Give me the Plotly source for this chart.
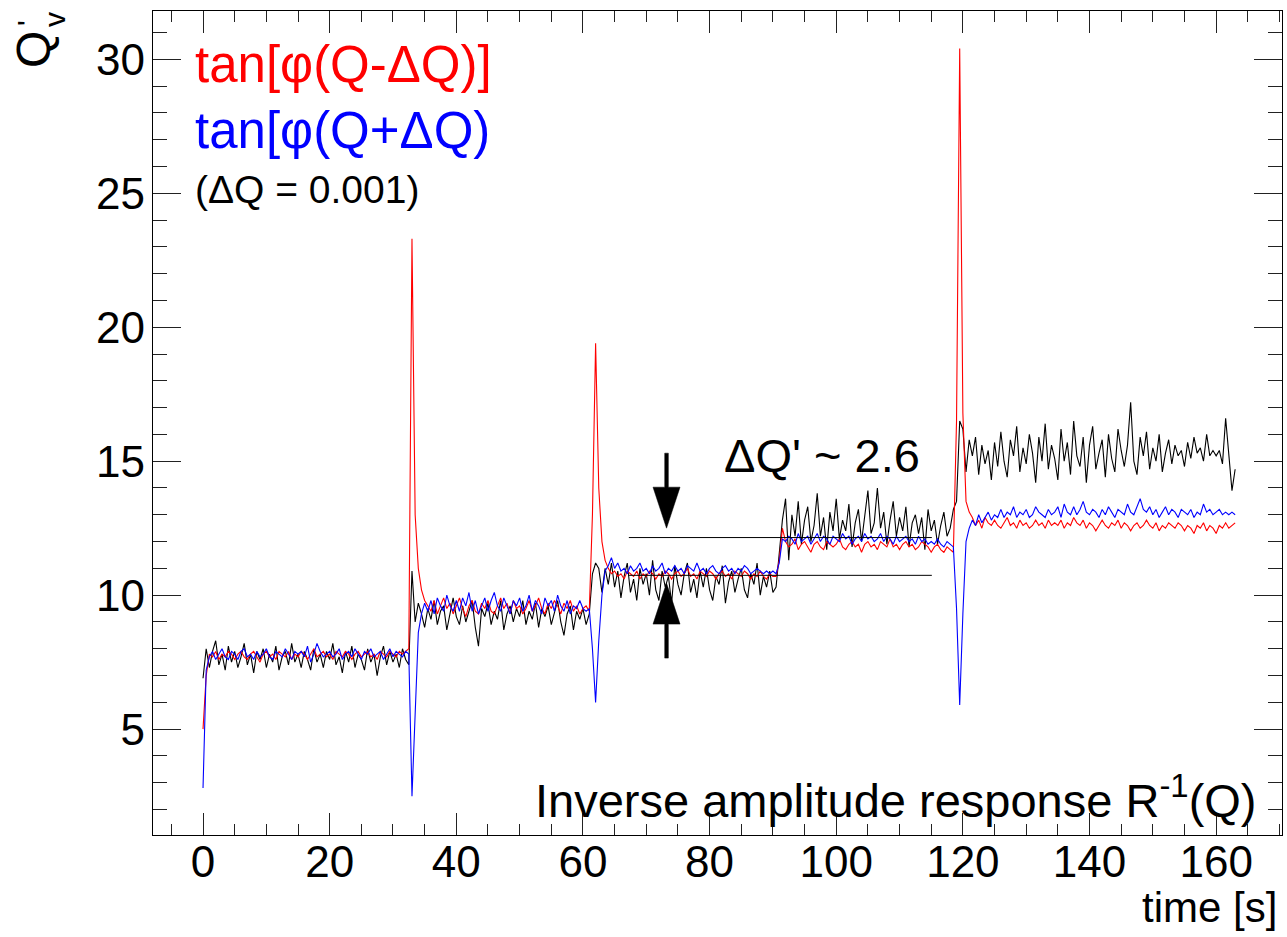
import plotly.graph_objects as go

# ---------------- data ----------------
t_start = 0.0
t_step = 0.5

red = [
    5.0, 7.0, 7.8, 7.7, 7.9, 7.6, 7.8, 7.7, 7.9, 7.8,
    7.6, 7.8, 7.9, 7.7, 7.6, 7.8, 7.9, 7.7, 7.5, 7.8,
    7.9, 7.7, 7.8, 7.6, 7.9, 7.8, 7.7, 7.9, 7.6, 7.8,
    7.7, 7.9, 7.8, 7.6, 7.8, 8.0, 7.7, 7.8, 7.9, 7.7,
    7.8, 7.6, 7.9, 7.8, 7.7, 7.9, 7.8, 7.6, 7.8, 7.9,
    7.7, 7.8, 7.9, 7.7, 7.8, 7.6, 7.9, 7.8, 7.7, 7.9,
    7.8, 7.7, 7.9, 7.8, 7.9, 8.0,
    23.3,
    13.0, 11.0, 10.2,
    9.8, 9.6, 9.4, 9.8, 9.3, 9.6, 9.9, 9.5, 9.7, 9.3,
    9.6, 9.9, 9.5, 9.2, 9.6, 9.8, 9.4, 9.3, 9.7, 9.5,
    9.8, 9.4, 9.3, 9.6, 9.9, 9.5, 9.7, 9.3, 9.8, 9.5,
    9.6, 9.3, 9.5, 9.8, 9.4, 9.6, 9.9, 9.5, 9.3, 9.7,
    9.5, 9.8, 9.6, 9.3, 9.7, 9.5, 9.8, 9.4, 9.6, 9.3,
    9.5, 9.6, 9.4,
    13.0, 19.4, 14.0, 12.0, 11.3,
    11.0, 10.8,
    10.9, 10.7, 10.8, 10.6, 10.9, 10.8, 10.7, 10.9, 10.6, 10.8,
    10.7, 10.9, 10.8, 10.6, 10.8, 10.7, 10.9, 10.8, 10.6, 10.8,
    10.9, 10.7, 10.8, 11.0, 10.7, 10.8, 10.6, 10.9, 10.8, 10.7,
    10.9, 10.8, 10.6, 10.8, 10.9, 10.7, 10.8, 10.6, 10.9, 10.8,
    10.7, 10.9, 10.8, 10.6, 10.8, 10.7, 10.9, 10.7, 10.6, 10.8,
    10.7, 10.7,
    11.3, 12.5,
    12.0, 11.8, 11.9, 12.1, 11.7, 11.9,
    12.0, 11.8, 11.6, 11.9, 12.0, 11.8, 11.7, 12.0, 11.9, 11.8,
    11.9, 12.1, 11.8, 11.7, 11.9, 12.0, 11.8, 11.9, 11.6, 11.9,
    12.0, 11.8, 11.9, 11.7, 12.0, 11.9, 11.8, 12.1, 11.8, 11.9,
    11.7, 11.9, 12.0, 11.8, 11.9, 11.7, 11.8, 12.0, 11.9, 11.8,
    11.6, 11.8, 11.9, 11.7, 11.6, 11.8, 11.7, 11.6,
    16.5, 30.4, 16.8, 13.5, 13.1,
    12.9, 12.6, 12.8, 12.5, 12.9, 12.7, 12.6,
    12.8, 12.6, 12.5, 12.7, 12.9, 12.6, 12.7, 12.5, 12.8, 12.6,
    12.7, 12.5, 12.6, 12.8, 12.6, 12.7, 12.5, 12.8, 12.6, 12.7,
    12.6, 12.8, 12.5, 12.7, 12.6, 12.9, 12.7, 12.6, 12.8, 12.5,
    12.7, 12.6, 12.4, 12.6, 12.8, 12.6, 12.5, 12.7, 12.6, 12.8,
    12.5, 12.7, 12.6, 12.4, 12.6, 12.7, 12.5, 12.6, 12.8, 12.6,
    12.5, 12.7, 12.4, 12.6, 12.5, 12.7, 12.6, 12.5, 12.7, 12.6,
    12.4, 12.6, 12.5, 12.3, 12.6, 12.5, 12.7, 12.4, 12.6, 12.5,
    12.3, 12.6, 12.5, 12.7, 12.5, 12.6, 12.7,
]

blue = [
    2.8, 7.2, 7.7, 7.9, 7.6, 7.8, 8.0, 7.7, 7.6, 7.9,
    7.8, 7.6, 7.9, 8.0, 7.7, 7.8, 7.6, 7.9, 7.7, 7.8,
    8.0, 7.7, 7.6, 7.9, 7.8, 7.7, 8.0, 7.8, 7.6, 7.9,
    7.8, 7.9, 7.7, 8.1, 7.5, 7.8, 8.2, 7.9, 7.7, 7.8,
    7.9, 7.7, 7.8, 8.0, 7.6, 7.8, 7.9, 7.7, 8.0, 7.8,
    7.6, 7.9, 7.8, 8.0, 7.7, 7.8, 7.9, 7.6, 7.8, 8.0,
    7.7, 7.9, 7.8, 7.7, 7.9, 7.8,
    2.5,
    5.8, 8.6, 9.3,
    9.7, 9.4, 9.8, 9.3, 9.9, 9.6, 9.4, 10.0, 9.6, 9.4,
    9.8, 9.4, 9.9, 9.6, 10.1, 9.4, 9.8, 9.3, 9.6, 9.9,
    9.4, 9.8, 10.1, 9.6, 9.4, 9.9, 9.6, 9.3, 9.8, 9.6,
    9.9, 9.4, 9.6, 10.0, 9.4, 9.8, 9.6, 9.3, 9.9, 9.6,
    9.8, 9.4, 10.0, 9.6, 9.4, 9.8, 9.3, 9.6, 9.5, 9.8,
    9.5, 9.4, 9.5,
    8.0, 6.0, 8.3, 10.0, 10.9,
    11.1, 11.4,
    11.0, 11.2, 10.9, 11.0, 10.8, 11.1, 10.9, 11.0, 11.2, 10.9,
    11.0, 10.8, 11.1, 10.9, 11.0, 11.2, 10.8, 11.0, 10.9, 11.1,
    10.9, 11.0, 10.8, 11.1, 11.0, 10.9, 11.2, 10.9, 11.0, 10.8,
    11.0, 11.1, 10.9, 10.8, 11.0, 11.1, 10.9, 11.0, 10.8, 11.0,
    10.9, 11.1, 11.0, 10.8, 10.9, 11.0, 10.9, 10.8, 10.9, 10.8,
    10.9, 10.8,
    11.2, 12.1,
    12.0, 12.2, 12.1, 11.9, 12.3, 12.0,
    12.1, 12.2, 11.9, 12.1, 12.3, 12.0, 12.2, 12.1, 11.9, 12.2,
    12.1, 12.0, 12.3, 12.1, 12.2, 11.9, 12.1, 12.2, 12.0, 12.3,
    12.1, 12.2, 12.0, 12.1, 12.3, 12.0, 12.2, 12.1, 11.9, 12.2,
    12.0, 12.1, 12.2, 12.0, 12.1, 11.9, 12.2, 12.0, 12.1, 11.9,
    12.0, 11.9, 12.1, 11.9, 11.8, 12.0, 11.9, 11.8,
    9.5, 5.9, 9.3, 12.0, 12.5,
    12.8, 12.6, 13.0, 12.7, 12.9, 13.1, 12.8,
    13.0, 12.9, 13.2, 12.9, 13.1, 13.0, 13.3, 12.9, 13.1, 13.0,
    13.2, 12.9, 13.0, 13.3, 13.1, 13.0, 12.9, 13.2, 13.0, 13.1,
    13.3, 12.9, 13.4, 13.1, 13.0, 13.3, 13.0, 13.2, 13.5, 13.1,
    13.0, 13.2, 13.1, 12.9, 13.2, 13.0, 13.3, 13.1, 12.9, 13.2,
    13.1, 13.0, 13.4, 13.1, 13.0, 13.3, 13.6, 13.2, 13.1, 13.3,
    13.0, 13.2, 12.9, 13.1, 13.3, 13.0, 13.2, 13.1, 12.9, 13.2,
    13.1, 13.0, 13.2, 12.9, 13.1, 13.0, 13.4, 13.1, 13.2, 13.0,
    13.1, 13.2, 13.0, 13.1, 13.0, 13.1, 13.0,
]

black = [
    6.9, 8.0, 7.3, 7.9, 8.3, 7.4, 7.8, 7.2, 8.1, 7.5,
    7.9, 7.3, 7.7, 8.2, 7.4, 7.8, 7.1, 7.9, 7.6, 8.0,
    7.3, 7.8, 7.5, 8.1, 7.2, 7.7, 7.9, 7.4, 8.2, 7.5,
    7.8, 7.3, 7.9, 7.6, 7.2, 8.0, 7.5, 7.8, 7.3, 7.9,
    7.6, 8.2, 7.4, 7.7, 7.1, 7.9, 7.5, 8.1, 7.3, 7.8,
    7.6, 7.2, 8.0, 7.5, 7.8, 7.0, 7.7, 8.1, 7.4, 7.9,
    7.5, 7.8, 7.3, 8.0, 7.6, 7.4,
    10.9,
    9.0, 9.7, 9.3,
    8.8, 9.5, 9.1, 9.8, 8.9, 9.4, 9.6, 8.7, 9.3, 9.9,
    9.2, 8.9, 9.6, 9.0, 9.4, 9.8, 8.8, 8.1, 9.5, 9.2,
    9.7, 8.9, 9.4, 9.1, 9.8, 8.7, 9.3, 9.6, 9.0, 9.5,
    9.2, 9.8, 8.9, 9.4, 9.1, 9.7, 8.8, 9.5, 9.2, 9.6,
    8.9, 9.4, 9.8, 9.0, 8.5, 9.3, 9.6, 8.7, 9.4, 9.1,
    9.5, 8.9, 9.3,
    10.8, 11.2, 11.0, 10.1, 11.0,
    10.4, 11.2,
    10.3, 10.9, 9.9, 10.7, 11.2, 10.1, 10.6, 9.8, 11.0, 10.4,
    10.8, 10.0, 11.3, 10.2, 9.8, 10.9, 10.3, 10.7, 9.7, 11.1,
    10.4, 10.0, 10.8, 11.2, 10.1, 10.6, 9.9, 10.9, 10.3, 11.0,
    10.2, 9.8, 10.7, 10.4, 11.1, 9.7, 10.5, 10.9, 10.1, 10.6,
    11.0, 10.2, 9.9, 10.8, 10.4, 11.2, 10.0, 10.7, 10.3, 10.9,
    10.1, 10.3,
    11.5, 12.8,
    13.6, 11.3, 13.0, 12.2, 13.5, 11.9,
    12.8, 13.3, 12.0, 12.6, 13.8, 12.2, 12.9, 11.7, 13.1, 12.4,
    13.6, 12.1, 12.8, 12.4, 13.4, 11.8, 12.7, 13.2, 12.0, 12.9,
    13.9, 12.3, 12.7, 14.0, 12.5, 13.1, 11.9, 12.8, 13.5, 12.2,
    12.9, 12.4, 13.3, 11.8, 12.7, 13.0, 12.3, 12.9, 11.7, 13.2,
    12.4, 12.8, 11.9, 12.6, 13.1, 12.2, 12.5, 13.2,
    13.5, 16.5, 16.2, 14.6, 15.8,
    15.2, 15.9, 14.5, 15.6, 14.9, 15.4, 14.3,
    15.7, 14.8, 16.1, 15.0, 14.4, 15.8, 15.2, 16.3, 14.6, 15.5,
    14.9, 16.0, 15.3, 14.2, 15.9, 15.0, 16.4, 14.7, 15.6, 15.1,
    14.3, 16.2, 15.0, 15.7, 14.5, 16.5, 15.2, 14.8, 15.9, 14.2,
    15.6, 16.3, 14.7, 15.3, 15.8, 14.4, 16.0, 15.1, 14.6, 16.2,
    15.4, 14.8, 15.6, 17.2, 15.0, 14.5, 15.9, 15.2, 16.1, 14.7,
    15.5, 15.0, 16.0, 14.6, 15.3, 15.8, 14.9, 15.6, 15.2, 15.4,
    14.8, 15.7, 15.1, 15.9, 15.3, 15.5, 15.0, 16.0, 15.2, 15.4,
    15.2, 15.4, 14.9, 16.6, 15.1, 13.9, 14.7,
]

time = [t_start + i * t_step for i in range(len(red))]

# reference levels & arrows (annotation geometry in data units)
level_x = [67.25, 115.1]
level_y = [12.15, 10.74]
arrow_x = 73.2
arrow_tips = [12.5, 10.45]

# ---------------- layout geometry ----------------
W, H = 1287, 937
ML, MR, MT, MB = 153, 5, 11, 102
PW, PH = W - ML - MR, H - MT - MB


def px(xp):
    return (xp - ML) / PW


def py(yp):
    return (H - MB - yp) / PH


FONT = "Liberation Sans, Arial, Helvetica, sans-serif"

fig = go.Figure()
fig.add_trace(go.Scatter(x=time, y=black, mode="lines",
                         line=dict(color="black", width=1.1), name="R^-1(Q)"))
fig.add_trace(go.Scatter(x=time, y=red, mode="lines",
                         line=dict(color="#ff0000", width=1.1), name="tan[phi(Q-dQ)]"))
fig.add_trace(go.Scatter(x=time, y=blue, mode="lines",
                         line=dict(color="#0000ff", width=1.1), name="tan[phi(Q+dQ)]"))

shapes = []
for yv in level_y:
    shapes.append(dict(type="line", xref="x", yref="y", x0=level_x[0], x1=level_x[1],
                       y0=yv, y1=yv, line=dict(color="black", width=1)))
# down arrow (tip pointing down onto the upper level)
shapes.append(dict(type="path", xref="x", yref="y", xsizemode="pixel", ysizemode="pixel",
                   xanchor=arrow_x, yanchor=arrow_tips[0],
                   path="M0,0 L-13.5,41 L-1.8,41 L-1.8,75 L1.8,75 L1.8,41 L13.5,41 Z",
                   fillcolor="black", line=dict(color="black", width=0.5)))
# up arrow (tip pointing up onto the lower level)
shapes.append(dict(type="path", xref="x", yref="y", xsizemode="pixel", ysizemode="pixel",
                   xanchor=arrow_x, yanchor=arrow_tips[1],
                   path="M0,0 L-13.5,-41 L-1.8,-41 L-1.8,-75 L1.8,-75 L1.8,-41 L13.5,-41 Z",
                   fillcolor="black", line=dict(color="black", width=0.5)))

annotations = [
    dict(text="tan[φ(Q-ΔQ)]", x=px(193), y=py(64), xanchor="left", yanchor="middle",
         font=dict(color="#ff0000", size=51, family=FONT)),
    dict(text="tan[φ(Q+ΔQ)", x=px(193), y=py(130), xanchor="left", yanchor="middle",
         font=dict(color="#0000ff", size=51, family=FONT)),
    dict(text="(ΔQ = 0.001)", x=px(193), y=py(190), xanchor="left", yanchor="middle",
         font=dict(color="black", size=39, family=FONT)),
    dict(text="ΔQ' ~ 2.6", x=px(822), y=py(456), xanchor="center", yanchor="middle",
         font=dict(color="black", size=47, family=FONT)),
    dict(text="Inverse amplitude response R<sup>-1</sup>(Q)", x=px(1259), y=py(797),
         xanchor="right", yanchor="middle", font=dict(color="black", size=47, family=FONT)),
    dict(text="time [s]", x=px(1279), y=py(908), xanchor="right", yanchor="middle",
         font=dict(color="black", size=42, family=FONT)),
    # y-axis title Q'_v (rotated)
    dict(text="Q", x=px(33), y=py(50), xanchor="center", yanchor="middle", textangle=-90,
         font=dict(color="black", size=48, family=FONT)),
    dict(text="v", x=px(54), y=py(20), xanchor="center", yanchor="middle", textangle=-90,
         font=dict(color="black", size=30, family=FONT)),
    dict(text="'", x=px(28), y=py(23), xanchor="center", yanchor="middle", textangle=-90,
         font=dict(color="black", size=30, family=FONT)),
]
for a in annotations:
    a.update(xref="paper", yref="paper", showarrow=False)

axis_common = dict(showline=True, linecolor="black", linewidth=1.3, mirror="ticks",
                   ticks="inside", tickcolor="#222", tickwidth=1.2, showgrid=False,
                   zeroline=False, tickfont=dict(size=44, family=FONT, color="black"))

fig.update_layout(
    width=W, height=H,
    margin=dict(l=ML, r=MR, t=MT, b=MB),
    paper_bgcolor="white", plot_bgcolor="white",
    showlegend=False,
    shapes=shapes, annotations=annotations,
    xaxis=dict(range=[-7.9, 170.4], dtick=20, tick0=0, ticklen=22, ticklabelstandoff=-12,
               minor=dict(dtick=5, ticklen=11, ticks="inside", tickcolor="#222", tickwidth=1.2),
               **axis_common),
    yaxis=dict(range=[1.05, 31.8], dtick=5, tick0=0, ticklen=28, ticklabelstandoff=-2,
               minor=dict(dtick=1, ticklen=14, ticks="inside", tickcolor="#222", tickwidth=1.2),
               **axis_common),
)

fig.write_html("out.html")
